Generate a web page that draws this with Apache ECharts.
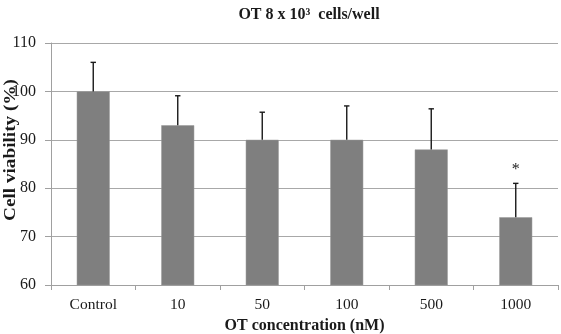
<!DOCTYPE html>
<html>
<head>
<meta charset="utf-8">
<script src="https://cdn.jsdelivr.net/npm/echarts@6/dist/echarts.min.js"></script>
<style>
  html, body { margin: 0; padding: 0; background: #fff; }
  #chart { width: 561px; height: 334px; }
</style>
</head>
<body>
<div id="chart"></div>
<script>
// data
const categories = ["Control", "10", "50", "100", "500", "1000"];
const viability = [100, 93, 90, 90, 88, 74];
const errUp = [6, 6.1, 5.7, 7, 8.4, 7];
const sigMarks = ["", "", "", "", "", "*"];
const yTicks = { min: 60, max: 110, step: 10 };

const serif = "'Liberation Serif', 'Times New Roman', serif";
const chart = echarts.init(document.getElementById("chart"));

// error bar (upward only) + significance star
function renderErr(params, api) {
  const i = api.value(0);
  const top = api.coord([i, api.value(1) + api.value(2)]);
  const base = api.coord([i, api.value(1)]);
  const cap = 2.7;
  const children = [
    { type: "line", shape: { x1: base[0], y1: base[1], x2: top[0], y2: top[1] },
      style: { stroke: "#1a1a1a", lineWidth: 1.4 } },
    { type: "line", shape: { x1: top[0] - cap, y1: top[1], x2: top[0] + cap, y2: top[1] },
      style: { stroke: "#1a1a1a", lineWidth: 1.4 } }
  ];
  if (sigMarks[i]) {
    children.push({
      type: "text",
      style: { text: sigMarks[i], x: top[0], y: top[1] - 14, align: "center",
        verticalAlign: "middle", font: "16px " + serif, fill: "#222" }
    });
  }
  return { type: "group", children: children };
}

chart.setOption({
  animation: false,
  title: {
    text: "OT 8 x 10³  cells/well",
    left: 304, top: 2, textAlign: "center",
    textStyle: { fontFamily: serif, fontWeight: "bold", fontSize: 16, color: "#1a1a1a" }
  },
  grid: { left: 51, right: 3, top: 43, bottom: 49, outerBoundsMode: "none" },
  graphic: [
    { type: "text", x: 11, y: 150, rotation: Math.PI / 2, scaleX: 1.2,
      style: { text: "Cell viability (%)", font: "bold 16px " + serif, fill: "#1a1a1a",
        align: "center", verticalAlign: "middle" } }
  ],
  xAxis: {
    type: "category",
    data: categories,
    name: "OT concentration (nM)",
    nameLocation: "middle",
    nameGap: 29,
    nameTextStyle: { fontFamily: serif, fontWeight: "bold", fontSize: 16, color: "#1a1a1a" },
    axisLine: { lineStyle: { color: "#a0a0a0", width: 1 } },
    axisTick: { show: true, length: 5, lineStyle: { color: "#a0a0a0" } },
    axisLabel: { fontFamily: serif, fontSize: 15.5, color: "#1a1a1a", margin: 12 }
  },
  yAxis: {
    type: "value",
    min: yTicks.min, max: yTicks.max, interval: yTicks.step,
    axisLine: { show: true, lineStyle: { color: "#a0a0a0", width: 1 } },
    axisTick: { show: true, length: 6, lineStyle: { color: "#a0a0a0" } },
    splitLine: { lineStyle: { color: "#a8a8a8", width: 1.2 } },
    axisLabel: { fontFamily: serif, fontSize: 16, color: "#1a1a1a", margin: 15 }
  },
  series: [
    {
      type: "bar",
      data: viability,
      barWidth: "39%",
      itemStyle: { color: "#7f7f7f", borderColor: "#999", borderWidth: 0.5 }
    },
    {
      type: "custom",
      renderItem: renderErr,
      data: viability.map((v, i) => [i, v, errUp[i]]),
      z: 10
    }
  ]
});
</script>
</body>
</html>
